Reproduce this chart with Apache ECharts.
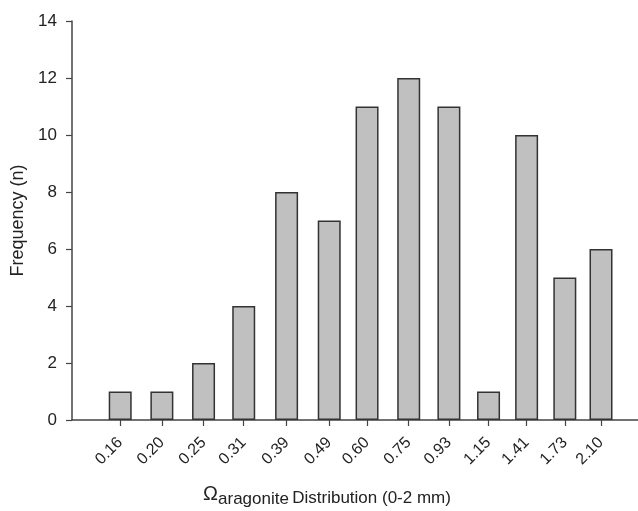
<!DOCTYPE html>
<html><head><meta charset="utf-8">
<script src="https://cdn.jsdelivr.net/npm/echarts@6/dist/echarts.min.js"></script>
<style>html,body{margin:0;padding:0;background:#fff}#c{width:638px;height:511px}</style>
</head><body><div id="c"></div>
<script>
const categories = ['0.16','0.20','0.25','0.31','0.39','0.49','0.60','0.75','0.93','1.15','1.41','1.73','2.10'];
const frequency = [1,1,2,4,8,7,11,12,11,1,10,5,6];
const yTicks = [0,2,4,6,8,10,12,14];

const xVals = categories.map(c => parseFloat(c));
const chart = echarts.init(document.getElementById('c'), null, {renderer:'canvas'});
const axisColor = '#444';
const font = 'Liberation Sans, Arial, sans-serif';
chart.setOption({
  animation:false,
  grid:{left:72, right:0, top:21, bottom:91, containLabel:false, outerBoundsMode:'none'},
  xAxis:{
    type:'log', logBase:10, min:0.1236, max:2.56,
    axisLine:{show:true, lineStyle:{color:axisColor, width:1.5}},
    axisTick:{show:true, customValues:xVals, length:6, inside:false, lineStyle:{color:axisColor, width:1.2}},
    axisLabel:{show:true, customValues:xVals, rotate:45, fontSize:16, color:'#222', fontFamily:font, margin:20,
      formatter:function(v){ const i = xVals.findIndex(x=>Math.abs(x-v)<1e-6); return i>=0?categories[i]:''; }},
    splitLine:{show:false}, minorTick:{show:false}, minorSplitLine:{show:false},
    name:'{om|Ω}{sub|aragonite} {main|Distribution (0-2 mm)}',
    nameLocation:'middle', nameGap:66,
    nameTextStyle:{padding:[0,56,0,0], rich:{
      om:{fontSize:20, fontFamily:font, color:'#222', padding:[0,0,4,0], verticalAlign:'bottom', lineHeight:22},
      sub:{fontSize:17, fontFamily:font, color:'#222', padding:[0,0,0,0], verticalAlign:'bottom', lineHeight:18},
      main:{fontSize:17, fontFamily:font, color:'#222', padding:[0,0,1,0], verticalAlign:'bottom', lineHeight:22}
    }}
  },
  yAxis:{
    type:'value', min:0, max:14, interval:2,
    axisLine:{show:true, lineStyle:{color:axisColor, width:1.5}},
    axisTick:{show:true, length:6, lineStyle:{color:axisColor, width:1.2}},
    axisLabel:{fontSize:17, color:'#222', fontFamily:font, margin:15,
      formatter:function(v){ return yTicks.indexOf(v)>=0 ? String(v) : ''; }},
    splitLine:{show:false},
    name:'Frequency (n)', nameLocation:'middle', nameGap:45,
    nameTextStyle:{fontSize:18, color:'#222', fontFamily:font}
  },
  series:[{
    type:'bar', barWidth:23,
    data:xVals.map((x,i)=>[x, frequency[i]]),
    itemStyle:{color:'#c0c0c0', borderColor:'#333', borderWidth:1.5}
  }]
});
</script></body></html>
